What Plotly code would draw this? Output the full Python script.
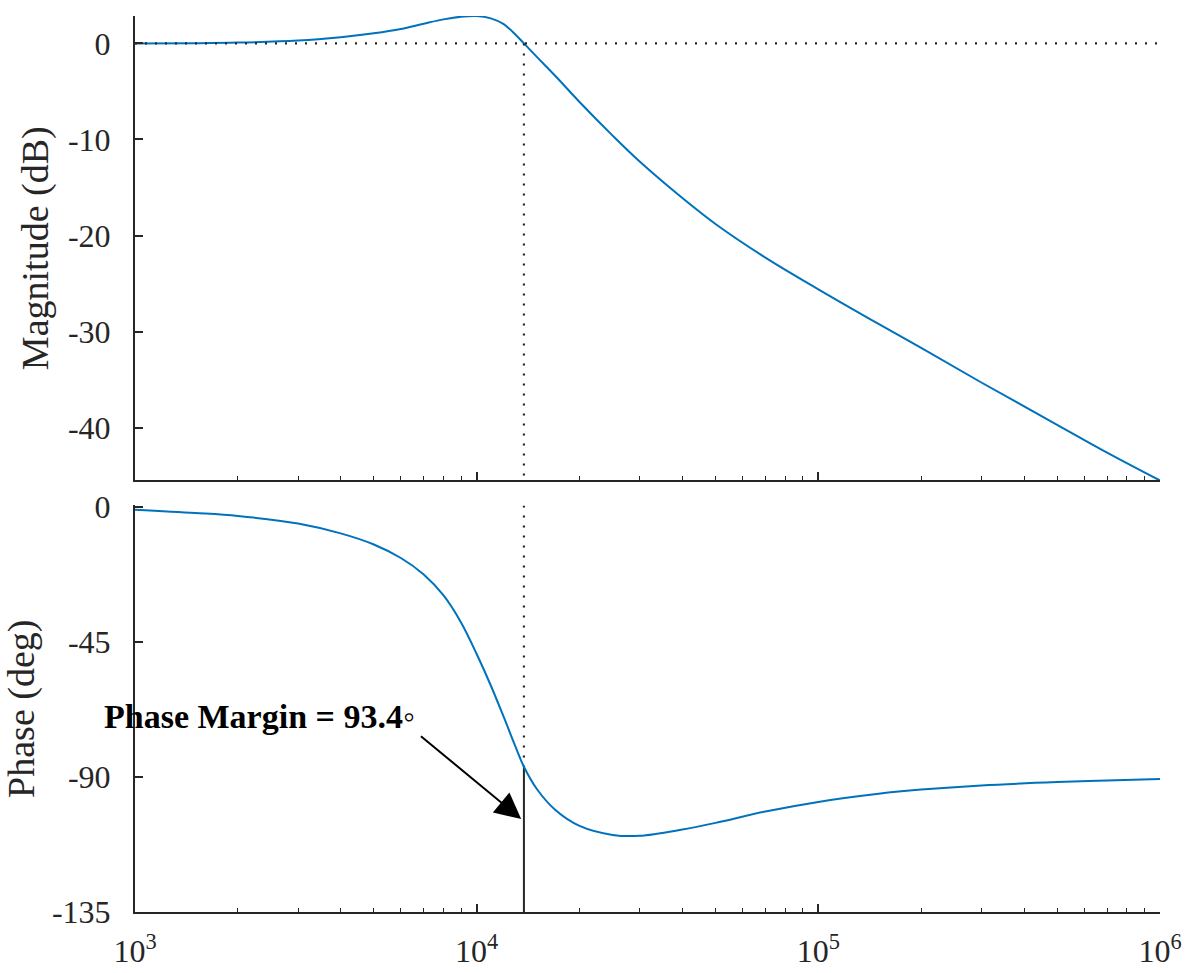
import math
import plotly.graph_objects as go
from plotly.subplots import make_subplots

# Open-loop frequency response (Bode data)
freq_hz = [1000, 1500, 2000, 3000, 4000, 5000, 6000, 7000, 8000, 9000,
           10000, 11000, 12000, 13000, 13750, 15000, 17000, 20000, 25000, 30000,
           40000, 50000, 70000, 100000, 150000, 200000, 300000, 500000, 700000, 1000000]
mag_db = [0.0, 0.02, 0.08, 0.3, 0.65, 1.05, 1.5, 2.05, 2.5, 2.78,
          2.85, 2.6, 2.0, 0.9, 0.0, -1.4, -3.4, -6.1, -9.6, -12.3,
          -16.1, -18.8, -22.3, -25.6, -29.2, -31.7, -35.3, -39.7, -42.6, -45.5]
phase_deg = [-0.9, -2.0, -3.0, -5.5, -8.8, -12.5, -17.0, -22.5, -29.5, -38.5,
             -49.0, -59.5, -70.0, -80.0, -86.6, -94.0, -101.0, -106.3, -109.3, -109.6,
             -107.5, -105.3, -101.5, -98.3, -95.6, -94.2, -92.8, -91.7, -91.2, -90.7]

# Gain crossover and the resulting phase margin
crossover_hz = 13750
phase_margin_deg = 93.4

mag_ticks = [-40, -30, -20, -10, 0]
mag_labels = ["-40", "-30", "-20", "-10", "0"]
phase_ticks = [-135, -90, -45, 0]
phase_labels = ["-135", "-90", "-45", "0"]
decade_ticks = [1e3, 1e4, 1e5, 1e6]
decade_labels = ["10<sup>3</sup>", "10<sup>4</sup>", "10<sup>5</sup>", "10<sup>6</sup>"]

mag_range = [-45.5, 2.85]
phase_range = [-135, 0.5]

BLUE = "#0072BD"
INK = "#262626"
FONT = "Liberation Serif"
DOTS = "2px,8px"

minor_vals = [m * 10 ** d for d in range(3, 6) for m in range(2, 10)]

fig = make_subplots(rows=2, cols=1, shared_xaxes=False)

# Magnitude
fig.add_trace(go.Scatter(x=freq_hz, y=mag_db, mode="lines",
                         line=dict(color=BLUE, width=2, shape="spline", smoothing=1.0),
                         showlegend=False), row=1, col=1)
fig.add_trace(go.Scatter(x=[decade_ticks[0], decade_ticks[-1]], y=[0, 0], mode="lines",
                         line=dict(color=INK, width=2.2, dash=DOTS), showlegend=False),
              row=1, col=1)
fig.add_trace(go.Scatter(x=[crossover_hz, crossover_hz], y=[0, mag_range[0]], mode="lines",
                         line=dict(color=INK, width=2.2, dash=DOTS), showlegend=False),
              row=1, col=1)

# Phase
phase_at_crossover = phase_margin_deg - 180
fig.add_trace(go.Scatter(x=[crossover_hz, crossover_hz], y=[phase_range[1], phase_at_crossover],
                         mode="lines", line=dict(color=INK, width=2.2, dash=DOTS),
                         showlegend=False), row=2, col=1)
fig.add_trace(go.Scatter(x=[crossover_hz, crossover_hz], y=[phase_range[0], phase_at_crossover],
                         mode="lines", line=dict(color=INK, width=2), showlegend=False),
              row=2, col=1)
fig.add_trace(go.Scatter(x=freq_hz, y=phase_deg, mode="lines",
                         line=dict(color=BLUE, width=2, shape="spline", smoothing=1.0),
                         showlegend=False), row=2, col=1)

axis_common = dict(showline=True, linecolor=INK, linewidth=2, ticks="inside",
                   ticklen=8, tickwidth=1.5, tickcolor=INK, showgrid=False,
                   zeroline=False, mirror=False, automargin=False,
                   tickfont=dict(family=FONT, size=32, color=INK))

x_common = dict(axis_common, type="log", range=[3, 6], tickvals=decade_ticks,
                ticktext=decade_labels,
                minor=dict(ticks="inside", ticklen=4, tickwidth=1.2, tickcolor=INK,
                           tickvals=minor_vals, showgrid=False))

fig.update_layout(
    width=1192, height=973,
    margin=dict(l=135, r=32, t=16, b=61),
    paper_bgcolor="white", plot_bgcolor="white",
    font=dict(family=FONT, color=INK),
    xaxis=dict(x_common, domain=[0, 1], anchor="y", showticklabels=False),
    xaxis2=dict(x_common, domain=[0, 1], anchor="y2", ticklabelstandoff=10),
    yaxis=dict(axis_common, domain=[0.4816, 1], range=mag_range, tickvals=mag_ticks,
               ticktext=mag_labels, ticklabelstandoff=16,
               title=dict(text="Magnitude (dB)", standoff=8,
                          font=dict(family=FONT, size=38, color=INK))),
    yaxis2=dict(axis_common, domain=[0, 0.4537], range=phase_range, tickvals=phase_ticks,
                ticktext=phase_labels, ticklabelstandoff=16,
                title=dict(text="Phase (deg)", standoff=8,
                           font=dict(family=FONT, size=38, color=INK))),
)

# Phase margin label (starts just left of the axis) and arrow
fig.add_annotation(x=-0.032, y=-70, xref="paper", yref="y2",
                   text="<b>Phase Margin = %.1f</b>◦" % phase_margin_deg,
                   showarrow=False, xanchor="left", yanchor="middle",
                   font=dict(family=FONT, size=34, color="black"))
fig.add_annotation(x=math.log10(crossover_hz) - 0.008, y=-104, xref="x2", yref="y2",
                   ax=math.log10(6800), ay=-76, axref="x2", ayref="y2",
                   text="", showarrow=True, arrowhead=2, arrowsize=2.6,
                   arrowwidth=2, arrowcolor="black")

fig.write_html("out.html")
